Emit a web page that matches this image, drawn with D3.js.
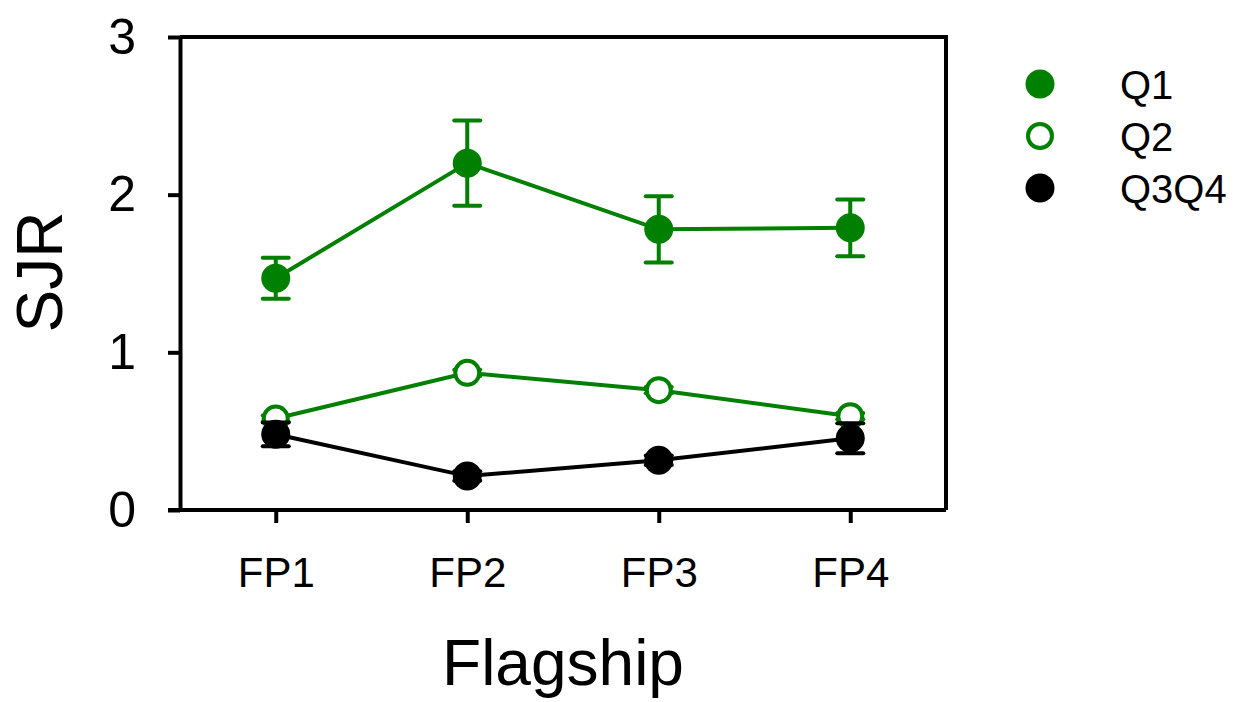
<!DOCTYPE html>
<meta charset="utf-8" />
<style>
  html, body { margin: 0; padding: 0; background: #fff; }
  svg { font-family: "Liberation Sans", Arial, sans-serif; }
</style>
<script src="https://d3js.org/d3.v7.min.js"></script>
<div id="chart"></div>
<script>
  // categories and values
  const flagships = ['FP1', 'FP2', 'FP3', 'FP4'];
  const q1Mean = [1.47, 2.20, 1.78, 1.79];
  const q1Err = [0.13, 0.27, 0.21, 0.18];
  const q2Mean = [0.58, 0.87, 0.76, 0.595];
  const q2Err = [0.02, 0.02, 0.02, 0.02];
  const q34Mean = [0.48, 0.215, 0.315, 0.455];
  const q34Err = [0.075, 0.03, 0.03, 0.095];
  const yTicks = [0, 1, 2, 3];

  const green = '#008000';
  const series = [
    { name: 'Q1', mean: q1Mean, err: q1Err, color: green, open: false },
    { name: 'Q2', mean: q2Mean, err: q2Err, color: green, open: true },
    { name: 'Q3Q4', mean: q34Mean, err: q34Err, color: '#000', open: false },
  ];

  const W = 1254, H = 702;
  const plotLeft = 180, plotRight = 946, plotTop = 37, plotBottom = 510;

  const svg = d3.select('#chart').append('svg')
    .attr('width', W).attr('height', H);

  const x = d3.scalePoint().domain(flagships).range([plotLeft, plotRight]).padding(0.5);
  const y = d3.scaleLinear().domain([0, 3]).range([plotBottom, plotTop]);

  // frame (top and right)
  svg.append('path')
    .attr('d', `M${plotLeft},${plotTop}H${plotRight}V${plotBottom}`)
    .attr('fill', 'none').attr('stroke', '#000').attr('stroke-width', 4);

  // y axis
  const yAxis = svg.append('g')
    .attr('transform', `translate(${plotLeft},0)`)
    .call(d3.axisLeft(y).tickValues(yTicks).tickFormat(d3.format('d')).tickSize(12).tickSizeOuter(0).tickPadding(32));
  yAxis.select('.domain').attr('stroke-width', 4);
  yAxis.selectAll('.tick line').attr('stroke-width', 4);
  yAxis.selectAll('text').attr('font-size', 50).attr('fill', '#000');

  // x axis
  const xAxis = svg.append('g')
    .attr('transform', `translate(0,${plotBottom})`)
    .call(d3.axisBottom(x).tickSize(13).tickSizeOuter(0).tickPadding(34));
  xAxis.select('.domain').attr('d', `M${plotLeft - 12},0H${plotRight}`).attr('stroke-width', 4);
  xAxis.selectAll('.tick line').attr('stroke-width', 4);
  xAxis.selectAll('text').attr('font-size', 42).attr('fill', '#000');

  // axis titles
  svg.append('text')
    .attr('x', (plotLeft + plotRight) / 2).attr('y', 685)
    .attr('text-anchor', 'middle').attr('font-size', 64)
    .text('Flagship');
  svg.append('text')
    .attr('transform', `translate(62,272) rotate(-90)`)
    .attr('text-anchor', 'middle').attr('font-size', 64)
    .text('SJR');

  const line = d3.line()
    .x((d, i) => x(flagships[i]))
    .y(d => y(d));

  series.forEach(s => {
    const g = svg.append('g');
    g.append('path')
      .attr('d', line(s.mean))
      .attr('fill', 'none').attr('stroke', s.color).attr('stroke-width', 4);

    const bars = g.selectAll('.err').data(s.mean).enter().append('g');
    bars.append('line')
      .attr('x1', (d, i) => x(flagships[i])).attr('x2', (d, i) => x(flagships[i]))
      .attr('y1', (d, i) => y(d + s.err[i])).attr('y2', (d, i) => y(d - s.err[i]))
      .attr('stroke', s.color).attr('stroke-width', 4);
    [1, -1].forEach(sign => {
      bars.append('line')
        .attr('x1', (d, i) => x(flagships[i]) - 13).attr('x2', (d, i) => x(flagships[i]) + 13)
        .attr('y1', (d, i) => y(d + sign * s.err[i])).attr('y2', (d, i) => y(d + sign * s.err[i]))
        .attr('stroke', s.color).attr('stroke-width', 4).attr('stroke-linecap', 'round');
    });

    g.selectAll('circle').data(s.mean).enter().append('circle')
      .attr('cx', (d, i) => x(flagships[i]))
      .attr('cy', d => y(d))
      .attr('r', s.open ? 12 : 14.5)
      .attr('fill', s.open ? '#fff' : s.color)
      .attr('stroke', s.open ? s.color : 'none')
      .attr('stroke-width', 4);
  });

  // legend
  const legend = svg.append('g');
  series.forEach((s, i) => {
    const cy = 84 + i * 52;
    legend.append('circle')
      .attr('cx', 1040).attr('cy', cy)
      .attr('r', s.open ? 12 : 14.5)
      .attr('fill', s.open ? '#fff' : s.color)
      .attr('stroke', s.open ? s.color : 'none')
      .attr('stroke-width', 4);
    legend.append('text')
      .attr('x', 1120).attr('y', cy + 15)
      .attr('font-size', 40)
      .text(s.name);
  });
</script>
